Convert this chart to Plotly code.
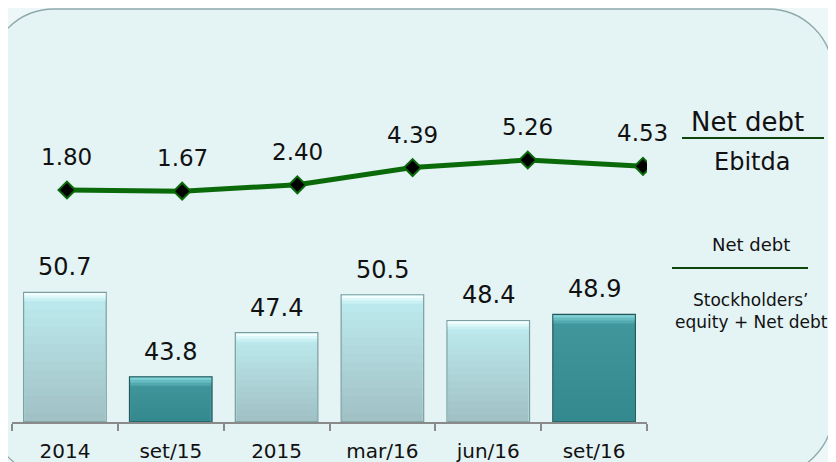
import plotly.graph_objects as go

categories = ["2014", "set/15", "2015", "mar/16", "jun/16", "set/16"]
bar_values = [50.7, 43.8, 47.4, 50.5, 48.4, 48.9]
bar_labels = ["50.7", "43.8", "47.4", "50.5", "48.4", "48.9"]
bar_dark = [False, True, False, False, False, True]
line_values = [1.80, 1.67, 2.40, 4.39, 5.26, 4.53]
line_labels = ["1.80", "1.67", "2.40", "4.39", "5.26", "4.53"]

OFF = 8  # page body margin offset
W, H = 836 - OFF, 462 - OFF
ML, MR, MT, MB = 12 - OFF, 189, 20 - OFF, 40
PW = W - ML - MR
PH = H - MT - MB
FONT = "DejaVu Sans, Verdana, sans-serif"

Y_BASE = 40.1
PXU = 12.23  # pixels per unit on bar axis
Y_TOP = Y_BASE + PH / PXU
Y2_LO = 1.80 - (422 - 190) / 8.67
Y2_HI = 1.80 + (190 - 20) / 8.67


def px(x):  # reference-screen x -> paper
    return (x - OFF - ML) / PW


def py(y):  # reference-screen y -> paper
    return (H - MB - (y - OFF)) / PH


idx = list(range(len(categories)))
fills = ["#42979c" if d else "#bdebef" for d in bar_dark]
edges = ["#24585b" if d else "#7d9c9e" for d in bar_dark]

fig = go.Figure()

# main bars
fig.add_trace(go.Bar(
    x=categories, y=[v - Y_BASE for v in bar_values], base=Y_BASE,
    width=0.78, marker=dict(color=fills, line=dict(color=edges, width=1.2)),
    hoverinfo="skip", showlegend=False,
))
# smooth vertical gradient imitation (darker towards bottom)
N = 14
for i in range(1, N + 1):
    f = i / (N + 1)
    fig.add_trace(go.Bar(
        x=categories, y=[(v - Y_BASE) * f for v in bar_values], base=Y_BASE,
        width=0.76,
        marker=dict(color=["rgba(20,60,65,0.004)" if d else "rgba(40,80,85,0.015)" for d in bar_dark],
                    line=dict(width=0)),
        hoverinfo="skip", showlegend=False,
    ))
# top bevel highlight (three steps)
bevel_steps = [
    (9, "#52a9ae", "#c8f0f3"),
    (6, "#66bcc1", "#dcf7f9"),
    (3, "#80d0d4", "#f6ffff"),
]
for depth, dc, lc in bevel_steps:
    h = depth / PXU
    fig.add_trace(go.Bar(
        x=categories, y=[h - 0.08] * len(bar_values), base=[v - h for v in bar_values],
        width=0.765, marker=dict(color=[dc if d else lc for d in bar_dark],
                                 line=dict(width=0)),
        hoverinfo="skip", showlegend=False,
    ))

# line series
fig.add_trace(go.Scatter(
    x=categories, y=line_values, xaxis="x2", yaxis="y2", mode="lines+markers",
    line=dict(color="#0a6a0a", width=5),
    marker=dict(symbol="diamond", size=13, color="#000000",
                line=dict(color="#0a6a0a", width=2)),
    hoverinfo="skip", showlegend=False,
))

annotations = []
for i, v, t in zip(idx, bar_values, bar_labels):
    annotations.append(dict(x=i, y=v, xref="x", yref="y", text=t, showarrow=False,
                            yanchor="middle", yshift=25,
                            font=dict(family=FONT, size=24, color="#111111")))
for i, v, t in zip(idx, line_values, line_labels):
    annotations.append(dict(x=i, y=v, xref="x2", yref="y2", text=t, showarrow=False,
                            yanchor="middle", yshift=33,
                            font=dict(family=FONT, size=23, color="#111111")))

right_texts = [
    ("Net debt", 747, 122, 26),
    ("Ebitda", 752, 162, 24),
    ("Net debt", 751, 244, 18),
    ("Stockholders’", 750, 300, 17),
    ("equity + Net debt", 751, 322, 17),
]
for t, x, y, s in right_texts:
    annotations.append(dict(x=px(x), y=py(y), xref="paper", yref="paper", text=t,
                            showarrow=False, xanchor="center", yanchor="middle",
                            font=dict(family=FONT, size=s, color="#111111")))

# rounded background panel (reference-screen coordinates)
L, R, T, B, r = -11, 833, 9, 476, 65
k = 0.5523 * r


def P(x, y):
    return f"{px(x):.5f},{py(y):.5f}"


path = (
    f"M {P(L + r, T)} L {P(R - r, T)} "
    f"C {P(R - r + k, T)} {P(R, T + r - k)} {P(R, T + r)} "
    f"L {P(R, B - r)} "
    f"C {P(R, B - r + k)} {P(R - r + k, B)} {P(R - r, B)} "
    f"L {P(L + r, B)} "
    f"C {P(L + r - k, B)} {P(L, B - r + k)} {P(L, B - r)} "
    f"L {P(L, T + r)} "
    f"C {P(L, T + r - k)} {P(L + r - k, T)} {P(L + r, T)} Z"
)

shapes = [
    dict(type="path", path=path, xref="paper", yref="paper", layer="below",
         fillcolor="#e4f3f4", line=dict(color="#8fa9aa", width=1.3)),
    dict(type="line", xref="paper", yref="paper", x0=px(682), x1=px(824),
         y0=py(138), y1=py(138), line=dict(color="#0d450d", width=2)),
    dict(type="line", xref="paper", yref="paper", x0=px(672), x1=px(808),
         y0=py(268), y1=py(268), line=dict(color="#0d450d", width=2)),
]

fig.update_layout(
    width=W, height=H,
    margin=dict(l=ML, r=MR, t=MT, b=MB, pad=0, autoexpand=False),
    paper_bgcolor="#eef7f8", plot_bgcolor="rgba(0,0,0,0)",
    barmode="overlay", bargap=0.22,
    showlegend=False,
    font=dict(family=FONT, color="#111111"),
    xaxis=dict(type="category", categoryorder="array", categoryarray=categories,
               range=[-0.5, len(categories) - 0.5], automargin=False,
               showline=True, linecolor="#8a8a8a", linewidth=2,
               ticks="outside", tickson="boundaries", ticklen=7,
               tickcolor="#8a8a8a", tickwidth=2, showgrid=False,
               tickfont=dict(family=FONT, size=20, color="#111111"),
               ticklabelstandoff=10, fixedrange=True),
    yaxis=dict(range=[Y_BASE, Y_TOP], visible=False, showgrid=False, automargin=False,
               zeroline=False, fixedrange=True),
    xaxis2=dict(type="category", categoryorder="array", categoryarray=categories,
                overlaying="x", range=[-0.477, 5.035], visible=False,
                automargin=False, fixedrange=True),
    yaxis2=dict(range=[Y2_LO, Y2_HI], overlaying="y", visible=False, automargin=False,
                showgrid=False, zeroline=False, fixedrange=True),
    annotations=annotations,
    shapes=shapes,
)

fig.write_html("out.html")
